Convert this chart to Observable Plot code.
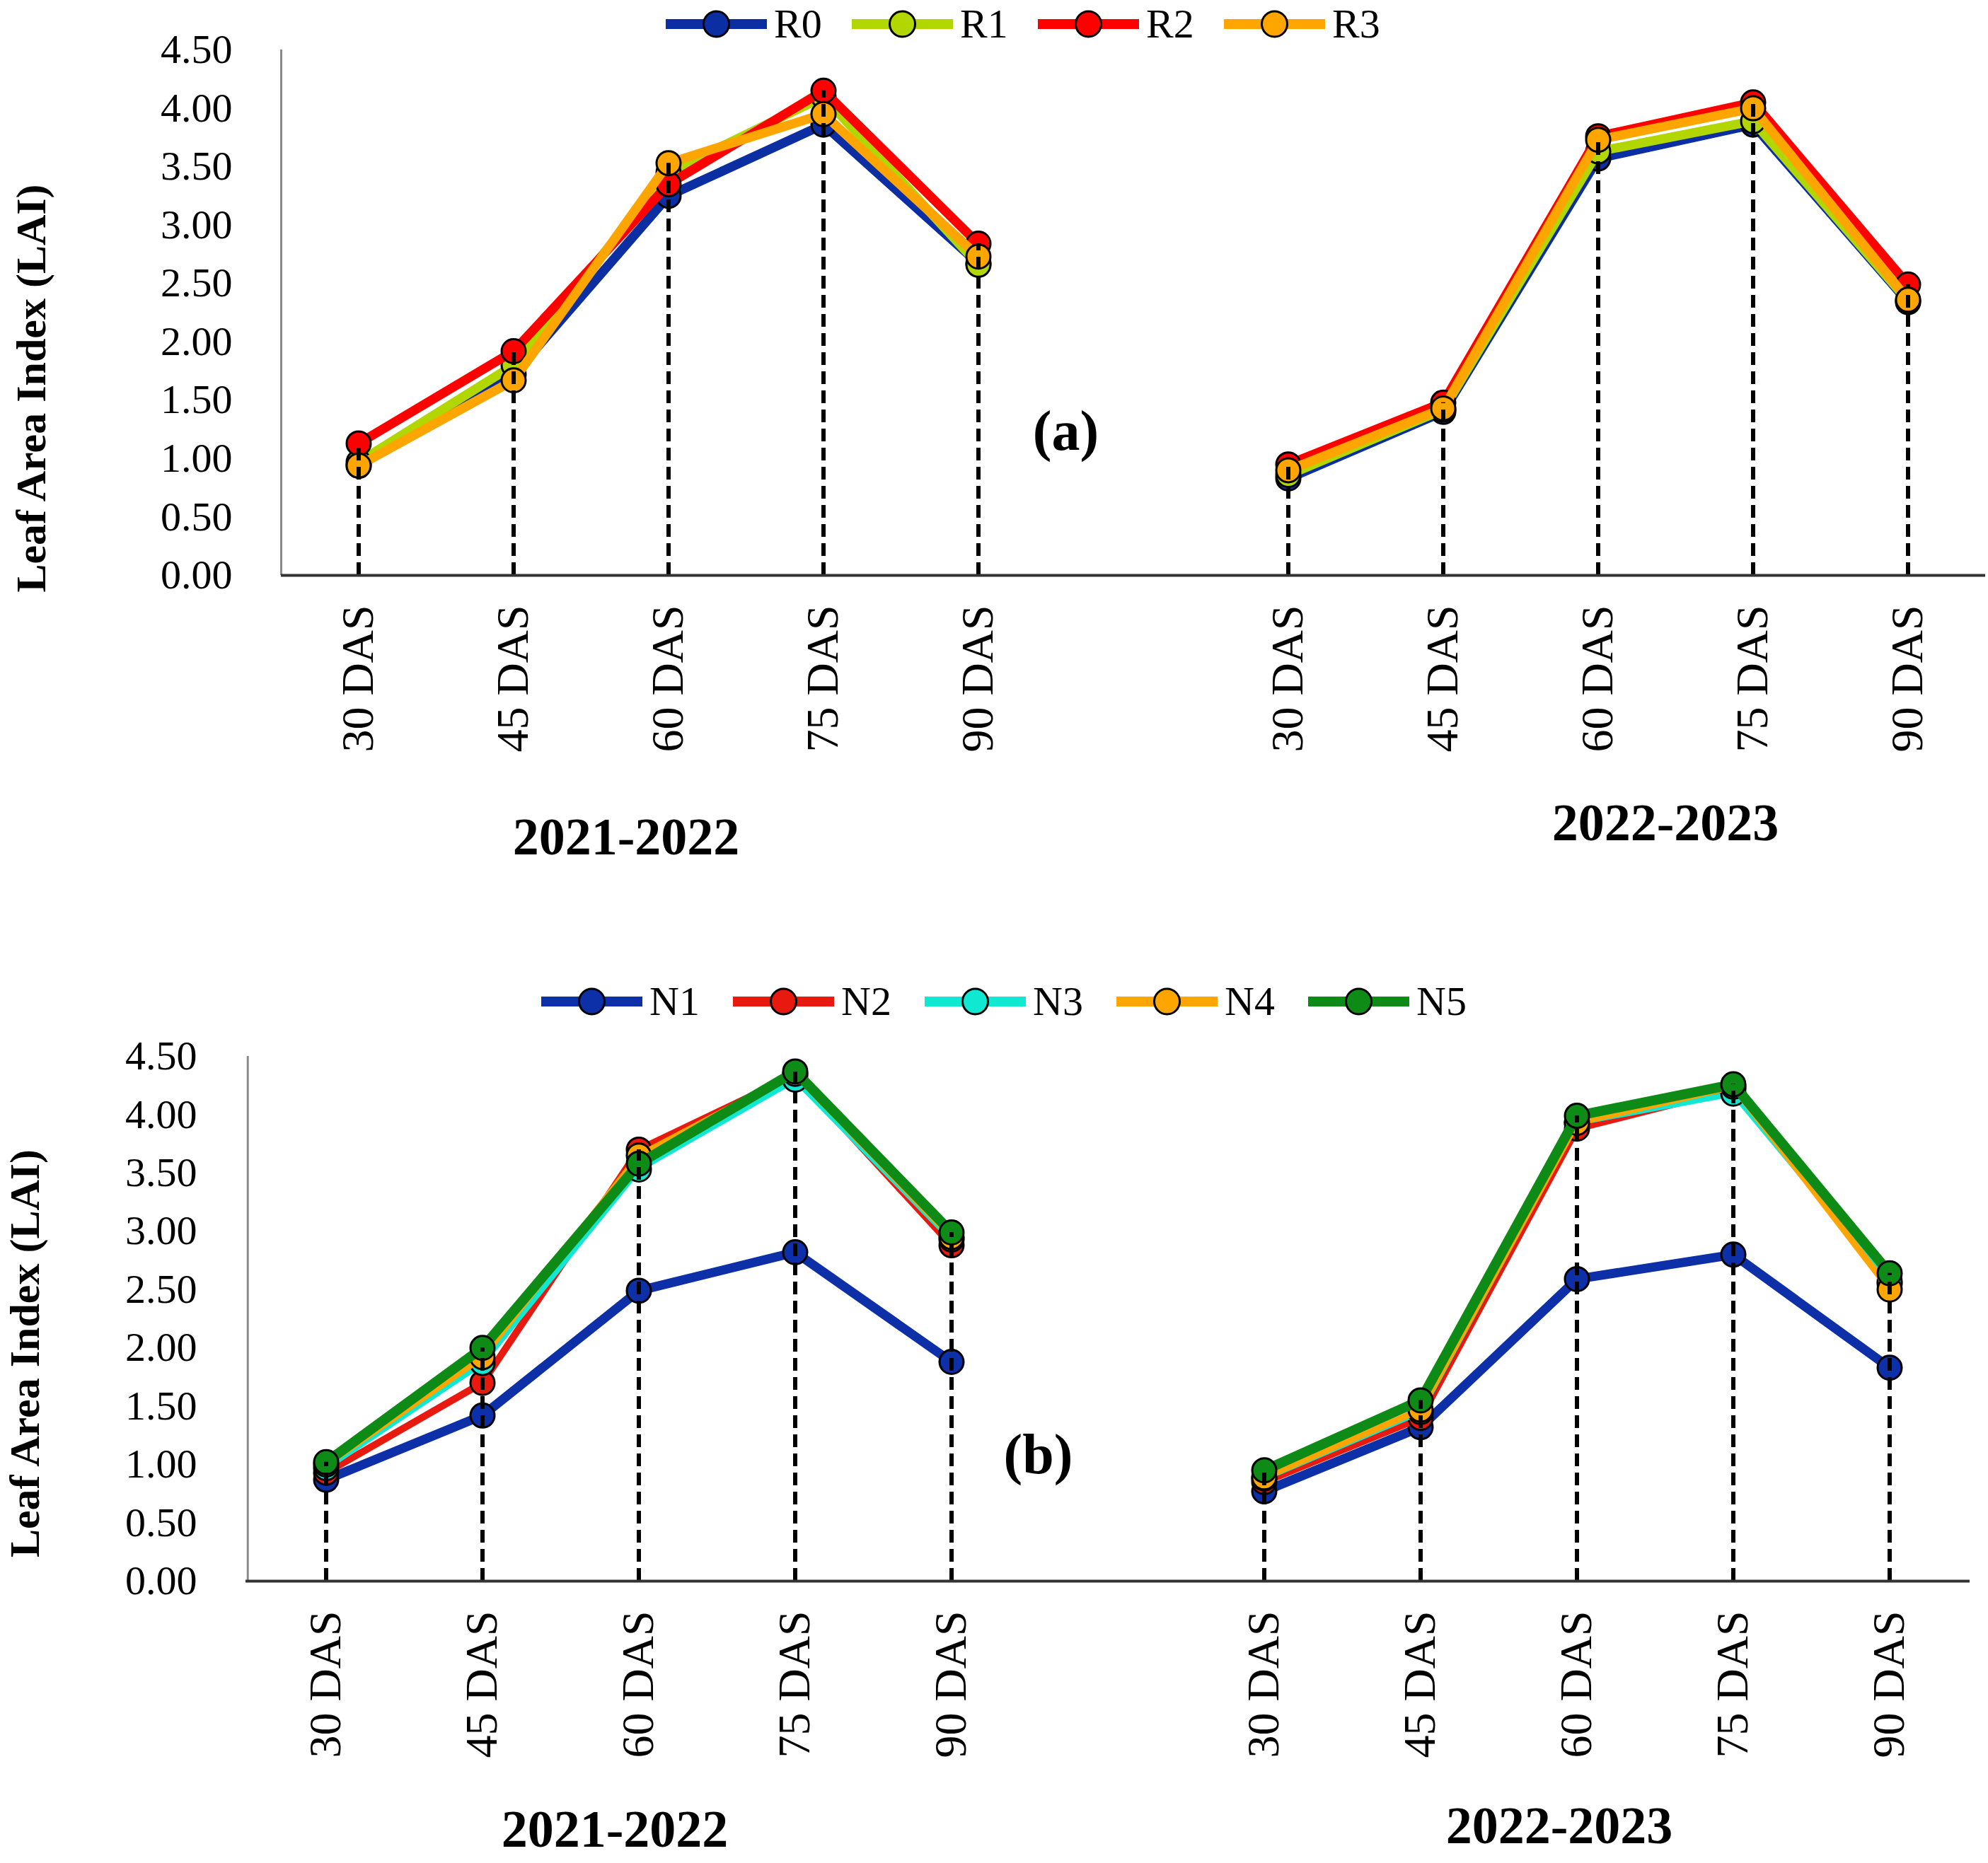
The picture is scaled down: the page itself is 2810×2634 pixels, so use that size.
<!DOCTYPE html>
<html>
<head>
<meta charset="utf-8">
<script src="https://cdn.jsdelivr.net/npm/d3@7"></script>
<script src="https://cdn.jsdelivr.net/npm/@observablehq/plot@0.6"></script>
<style>
  body { margin: 0; background: #fff; }
  #root { position: relative; width: 2810px; height: 2634px; overflow: hidden;
          font-family: "Liberation Serif", "Times New Roman", serif; color: #000; }
  .pl { position: absolute; left: 0; }
  .item { position: absolute; display: flex; align-items: center; height: 64px; }
  .item span { font-size: 58px; line-height: 1.15; margin-left: 10px; }
</style>
</head>
<body>
<div id="root"></div>
<script>
// ---------- data ----------
const stages = ["30 DAS", "45 DAS", "60 DAS", "75 DAS", "90 DAS"];
const seasons = ["2021-2022", "2022-2023"];
const yTicks = [0, 0.5, 1, 1.5, 2, 2.5, 3, 3.5, 4, 4.5];
const yLabel = "Leaf Area Index (LAI)";

// Panel (a): residue treatments
const rSeries = ["R0", "R1", "R2", "R3"];
const rColors = ["#0c2ea3", "#b2d600", "#ff0000", "#ffa500"];
const R0 = [[0.94, 1.72, 3.25, 3.86, 2.67], [0.83, 1.40, 3.57, 3.86, 2.34]];
const R1 = [[0.97, 1.80, 3.45, 4.10, 2.66], [0.86, 1.42, 3.63, 3.89, 2.35]];
const R2 = [[1.13, 1.92, 3.35, 4.15, 2.84], [0.95, 1.48, 3.76, 4.05, 2.49]];
const R3 = [[0.94, 1.67, 3.53, 3.95, 2.73], [0.90, 1.43, 3.73, 4.00, 2.36]];

// Panel (b): nitrogen treatments
const nSeries = ["N1", "N2", "N3", "N4", "N5"];
const nColors = ["#0d2fa8", "#e8190e", "#10e8d2", "#ffa500", "#0e8a16"];
const N1 = [[0.87, 1.42, 2.49, 2.82, 1.88], [0.77, 1.32, 2.59, 2.80, 1.83]];
const N2 = [[0.93, 1.70, 3.70, 4.34, 2.88], [0.85, 1.40, 3.88, 4.22, 2.55]];
const N3 = [[0.97, 1.87, 3.53, 4.30, 2.93], [0.88, 1.45, 3.93, 4.18, 2.57]];
const N4 = [[1.00, 1.92, 3.65, 4.35, 2.95], [0.89, 1.47, 3.93, 4.24, 2.50]];
const N5 = [[1.02, 2.00, 3.58, 4.37, 2.99], [0.95, 1.55, 3.99, 4.26, 2.64]];

// ---------- layout / style ----------
const W = 2810;
const FONT = '"Liberation Serif", "Times New Roman", serif';
const panels = [
  {
    letter: "(a)", series: rSeries, colors: rColors, values: [R0, R1, R2, R3],
    widths: [13, 13, 13, 13],
    top: 56, height: 1244, mt: 14, mb: 487, ml: 397, mr: 4,
    yLab: {dx: -353, dy: 107}, letterPos: {dx: 1109, dy: 540},
    seasonPos: [{dx: -60, dy: 371}, {dx: 95, dy: 351}],
    legend: {x0: 941, pitch: 263, cy: 34}
  },
  {
    letter: "(b)", series: nSeries, colors: nColors, values: [N1, N2, N3, N4, N5],
    widths: [13, 10, 8, 9, 14],
    top: 1478, height: 1156, mt: 15, mb: 399, ml: 347, mr: 26,
    yLab: {dx: -312, dy: 49}, letterPos: {dx: 1120, dy: 564},
    seasonPos: [{dx: -34, dy: 352}, {dx: -25, dy: 347}],
    legend: {x0: 765, pitch: 271, cy: 1416}
  }
];

const root = document.getElementById("root");
const keyOf = (season, stage) => season + "|" + stage;
const keys = [...stages.map(s => keyOf(seasons[0], s)), "gap", ...stages.map(s => keyOf(seasons[1], s))];

for (const cfg of panels) {
  const rows = [];
  cfg.series.forEach((s, si) => {
    seasons.forEach((season, ki) => {
      cfg.values[si][ki].forEach((v, j) => {
        rows.push({series: s, season, stage: stages[j], key: keyOf(season, stages[j]), value: v});
      });
    });
  });
  const drops = d3.rollups(rows, v => d3.max(v, d => d.value), d => d.key).map(([key, max]) => ({key, max}));
  const bw = (W - cfg.ml - cfg.mr) / keys.length;

  const marks = [];
  marks.push(Plot.ruleX([keys[0]], {x: d => d, dx: -bw / 2, y1: 0, y2: 4.5, stroke: "#8a8a8a", strokeWidth: 3}));
  cfg.series.forEach((s, si) => {
    const d = rows.filter(r => r.series === s);
    marks.push(Plot.line(d, {x: "key", y: "value", z: "season", stroke: cfg.colors[si],
      strokeWidth: cfg.widths[si], strokeLinejoin: "round", strokeLinecap: "butt"}));
    marks.push(Plot.dot(d, {x: "key", y: "value", r: 17, fill: cfg.colors[si], stroke: "#000", strokeWidth: 3}));
  });
  marks.push(Plot.ruleX(drops, {x: "key", y1: 0, y2: "max", stroke: "#000", strokeWidth: 6, strokeDasharray: "18,9"}));
  marks.push(Plot.ruleY([0], {stroke: "#333", strokeWidth: 4}));
  marks.push(Plot.axisY({ticks: yTicks, tickFormat: d3.format(".2f"), tickSize: 0, tickPadding: 69,
    fontSize: 58, label: null}));
  marks.push(Plot.axisX({ticks: keys.filter(k => k !== "gap"), tickFormat: k => k.split("|")[1],
    tickRotate: -90, tickSize: 0, tickPadding: 42, fontSize: 64, label: null}));
  marks.push(Plot.text([yLabel], {frameAnchor: "left", rotate: -90, dx: cfg.yLab.dx, dy: cfg.yLab.dy,
    fontWeight: "bold", fontSize: 60, textAnchor: "middle", lineAnchor: "middle"}));
  marks.push(Plot.text([cfg.letter], {frameAnchor: "top-left", dx: cfg.letterPos.dx, dy: cfg.letterPos.dy,
    fontWeight: "bold", fontSize: 80, textAnchor: "middle", lineAnchor: "middle"}));
  seasons.forEach((season, i) => {
    marks.push(Plot.text([{season, key: keyOf(season, "60 DAS")}], {x: "key", text: "season", frameAnchor: "bottom",
      dx: cfg.seasonPos[i].dx, dy: cfg.seasonPos[i].dy,
      fontWeight: "bold", fontSize: 74, textAnchor: "middle", lineAnchor: "middle"}));
  });

  const chart = Plot.plot({
    width: W, height: cfg.height,
    marginTop: cfg.mt, marginBottom: cfg.mb, marginLeft: cfg.ml, marginRight: cfg.mr,
    x: {type: "band", domain: keys, padding: 0},
    y: {domain: [0, 4.5]},
    style: {fontFamily: FONT, fontSize: "58px", overflow: "visible", background: "transparent", color: "#000"},
    marks
  });
  chart.classList.add("pl");
  chart.style.top = cfg.top + "px";
  root.appendChild(chart);

  // legend (HTML, above the plot)
  cfg.series.forEach((s, i) => {
    const item = document.createElement("div");
    item.className = "item";
    item.style.left = (cfg.legend.x0 + i * cfg.legend.pitch) + "px";
    item.style.top = (cfg.legend.cy - 32) + "px";
    const ns = "http://www.w3.org/2000/svg";
    const sw = document.createElementNS(ns, "svg");
    sw.setAttribute("width", 143); sw.setAttribute("height", 46);
    const ln = document.createElementNS(ns, "line");
    ln.setAttribute("x1", 0); ln.setAttribute("x2", 143); ln.setAttribute("y1", 23); ln.setAttribute("y2", 23);
    ln.setAttribute("stroke", cfg.colors[i]); ln.setAttribute("stroke-width", 14);
    const c = document.createElementNS(ns, "circle");
    c.setAttribute("cx", 71.5); c.setAttribute("cy", 23); c.setAttribute("r", 18);
    c.setAttribute("fill", cfg.colors[i]); c.setAttribute("stroke", "#000"); c.setAttribute("stroke-width", 3);
    sw.appendChild(ln); sw.appendChild(c);
    const sp = document.createElement("span");
    sp.textContent = s;
    item.appendChild(sw); item.appendChild(sp);
    root.appendChild(item);
  });
}
</script>
</body>
</html>
